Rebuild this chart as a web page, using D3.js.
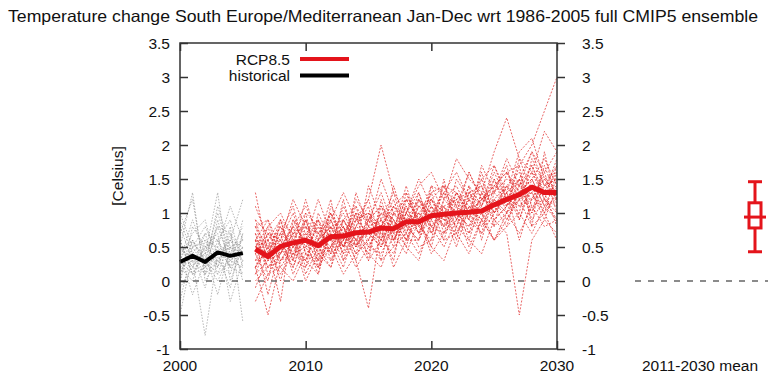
<!DOCTYPE html>
<html>
<head>
<meta charset="utf-8">
<script src="https://cdn.jsdelivr.net/npm/d3@7"></script>
<style>
  html, body { margin: 0; padding: 0; background: #fff; }
  svg { display: block; font-family: "Liberation Sans", Arial, Helvetica, sans-serif; }
</style>
</head>
<body>
<svg id="chart" width="768" height="376"></svg>
<script>
// Ensemble-mean temperature change (°C, relative to 1986-2005)
const histYears = [2000, 2001, 2002, 2003, 2004, 2005];
const histMean  = [0.28, 0.37, 0.28, 0.42, 0.37, 0.41];

const rcpYears = [2006, 2007, 2008, 2009, 2010, 2011, 2012, 2013, 2014, 2015, 2016, 2017, 2018,
                  2019, 2020, 2021, 2022, 2023, 2024, 2025, 2026, 2027, 2028, 2029, 2030];
const rcpMean  = [0.47, 0.36, 0.51, 0.56, 0.60, 0.52, 0.65, 0.66, 0.71, 0.72, 0.78, 0.77, 0.87,
                  0.87, 0.96, 0.98, 1.00, 1.01, 1.03, 1.12, 1.20, 1.27, 1.38, 1.30, 1.30];

// Individual historical runs, 2000-2005
const histMembers = [
  [0.1, 0.6, 0.2, 0.8, 0.3, 0.5],
  [0.5, 0.2, 0.7, 0.1, 0.6, 0.3],
  [0.9, 0.4, -0.1, 0.6, 0.9, 0.2],
  [0.0, 0.8, 0.5, 0.3, 0.1, 0.7],
  [0.4, -0.2, 0.3, 1.0, 0.4, 0.6],
  [-0.3, 0.5, 0.6, 0.2, 0.7, 0.0],
  [0.7, 1.2, 0.1, 0.5, 0.2, 0.9],
  [0.2, 0.3, -0.8, 0.4, 0.5, 0.4],
  [0.6, 0.1, 0.4, 1.3, 0.0, 0.5],
  [0.3, 0.7, 0.9, 0.2, 0.8, -0.6],
  [-0.1, 0.2, 0.5, 0.7, -0.3, 0.3],
  [1.0, 0.5, 0.2, 0.4, 0.6, 1.2],
  [0.3, 0.9, 0.4, -0.2, 0.5, 0.1],
  [0.2, 0.0, 0.6, 0.5, 1.1, 0.6],
  [0.8, 0.3, 0.1, 0.9, 0.2, 0.4],
  [0.4, 0.6, 0.3, 0.0, 0.4, 0.8],
  [-0.5, 0.4, 0.7, 0.6, 0.3, 0.2],
  [0.5, 1.3, 0.0, 0.3, 0.6, 0.5],
  [0.1, 0.5, 0.8, 0.4, -0.1, 0.7],
  [0.6, 0.1, 0.2, 1.1, 0.5, 0.3],
  [0.3, 0.1, 0.5, 0.6, 0.2, 0.1],
  [0.2, 0.4, 0.1, 0.3, 0.5, 0.6],
  [0.5, 0.3, 0.4, 0.8, 0.7, 0.4],
  [0.0, 0.6, 0.3, 0.1, 0.3, 0.5]
];

// Individual RCP8.5 runs, 2006-2030
const rcpMembers = [
  [0.2,0.5,0.8,0.4,0.9,0.3,0.7,1.0,0.6,0.9,1.3,0.8,1.1,0.7,1.2,1.4,0.9,1.3,1.1,1.6,1.2,1.5,1.9,1.4,1.7],
  [0.7,0.1,0.4,0.9,0.5,0.8,0.4,0.6,1.1,0.5,0.8,1.2,0.6,1.0,0.8,0.7,1.3,0.9,1.5,1.0,1.4,1.1,1.2,1.6,1.0],
  [0.5,0.6,0.0,0.7,1.0,0.2,0.9,0.5,0.8,1.2,0.6,0.4,1.0,1.3,0.7,1.1,0.8,1.4,0.6,1.3,1.7,0.9,1.5,1.1,1.5],
  [-0.1,0.4,0.6,0.2,0.7,0.9,0.3,0.8,0.4,0.6,1.0,0.7,1.4,0.8,1.1,0.6,1.2,0.7,1.3,0.9,1.1,1.8,1.3,0.9,1.4],
  [0.9,0.3,0.7,1.1,0.4,0.6,1.2,0.3,0.9,1.0,0.5,1.1,0.8,0.6,1.4,1.0,0.5,1.1,0.9,1.5,1.0,1.3,1.0,1.7,1.2],
  [0.3,0.8,0.2,0.5,0.3,0.7,0.5,1.1,0.7,0.4,1.1,0.9,0.5,1.2,0.9,1.3,1.1,0.6,1.2,1.1,0.8,1.4,1.7,1.2,0.9],
  [0.6,-0.2,0.5,0.8,0.6,0.1,0.8,0.4,1.3,0.8,0.7,0.3,1.2,0.9,0.5,1.2,1.4,1.0,0.7,1.4,1.3,0.6,1.2,1.5,1.3],
  [1.1,0.6,0.9,0.3,1.0,0.8,0.6,0.9,0.5,1.4,0.9,1.3,0.7,1.1,1.0,0.8,1.5,1.2,1.4,0.8,1.6,1.2,1.4,1.0,1.6],
  [0.0,0.2,0.4,0.7,0.1,0.5,0.3,0.6,0.2,0.5,0.4,0.8,0.5,0.3,0.9,0.6,0.7,0.4,0.9,0.6,1.0,0.7,1.1,0.8,0.9],
  [0.8,0.9,0.3,0.6,0.9,0.4,1.0,0.7,1.0,0.3,1.2,0.6,1.0,1.5,1.1,0.9,1.0,1.6,1.2,1.3,1.5,1.4,1.6,1.3,1.8],
  [0.4,0.0,0.9,0.3,0.2,1.0,0.6,0.2,0.8,1.1,0.3,1.0,0.9,0.5,0.6,1.5,0.7,1.0,1.6,0.9,1.1,1.7,0.8,1.9,1.1],
  [0.6,0.5,-0.3,0.9,0.7,0.5,0.2,0.9,0.6,0.7,0.9,0.5,1.3,0.8,1.3,0.7,0.9,1.2,0.8,1.2,0.9,1.3,1.5,1.1,1.2],
  [0.2,0.7,0.6,1.0,0.4,0.3,1.1,0.8,0.3,0.9,0.6,1.4,0.8,1.0,0.7,1.2,1.0,0.8,1.1,1.7,1.2,1.0,1.8,1.4,1.5],
  [1.3,0.4,0.8,0.5,1.2,0.6,0.8,0.5,1.0,0.6,1.0,0.9,0.6,1.1,1.2,0.9,1.3,1.1,1.0,1.2,1.4,1.6,1.1,1.2,1.0],
  [0.1,0.3,0.5,0.2,0.8,0.4,0.5,0.7,0.9,1.0,0.7,0.6,1.1,0.7,1.0,1.1,0.6,1.3,1.4,1.0,1.3,0.9,1.4,1.3,1.4],
  [0.5,0.8,1.0,0.6,0.3,0.9,0.4,1.2,0.5,0.8,1.5,1.0,0.7,1.3,0.8,1.0,1.2,0.9,1.7,1.3,1.8,1.4,1.9,1.6,1.9],
  [0.7,0.2,0.3,0.4,0.5,0.2,0.7,0.3,0.6,0.4,0.2,0.7,0.4,0.9,0.5,0.3,0.8,0.6,0.4,0.9,0.7,-0.5,0.6,0.9,0.7],
  [0.9,0.7,0.6,1.2,0.8,0.7,0.9,1.3,0.9,1.2,2.0,1.3,1.0,1.4,1.6,1.2,1.8,1.5,1.3,1.9,2.4,1.8,1.6,2.2,1.9],
  [0.3,0.4,0.7,0.5,0.6,1.2,0.7,0.5,1.0,0.9,0.8,1.1,1.3,0.9,1.3,1.4,1.1,1.6,1.2,1.4,1.6,1.7,2.0,2.5,3.0],
  [-0.3,0.1,0.2,0.0,0.4,0.2,0.5,0.1,0.4,0.6,0.3,0.5,0.7,0.4,0.8,0.5,0.9,0.7,1.0,0.6,0.9,1.2,0.8,1.0,0.6],
  [0.6,0.9,0.5,0.8,1.1,0.7,1.0,0.6,1.2,0.9,1.1,0.8,1.2,0.9,1.4,1.3,1.6,1.2,1.5,1.7,1.3,1.9,2.1,1.5,1.6],
  [0.4,0.6,0.7,0.1,0.5,0.6,0.8,0.9,0.6,0.3,0.6,0.9,0.6,0.6,1.1,0.8,1.1,0.9,0.7,1.0,1.2,1.1,1.3,1.0,1.3],
  [0.8,0.3,0.4,0.7,0.6,0.9,0.6,0.7,0.5,0.8,0.9,0.6,1.0,0.8,0.6,1.0,0.8,1.2,1.0,0.8,1.0,1.5,0.9,1.2,1.1],
  [0.2,0.5,0.6,0.4,0.3,0.1,0.8,0.6,0.9,0.7,0.5,1.0,0.8,1.2,1.0,1.3,0.9,1.4,1.1,1.5,1.1,1.3,1.7,1.3,0.8],
  [0.2,-0.5,0.3,0.6,0.0,0.4,0.2,0.7,0.3,-0.4,0.8,0.2,0.6,0.9,0.4,0.7,1.0,0.5,0.9,0.6,0.8,1.0,0.7,1.1,0.9],
  [0.5,0.4,0.9,0.7,0.8,0.6,0.4,0.9,1.1,0.8,0.6,1.0,1.2,1.1,0.9,1.4,1.3,1.0,1.2,1.4,1.6,1.3,1.5,1.8,1.4],
  [0.1,0.6,0.3,0.5,0.7,0.5,0.9,0.4,0.7,0.5,0.9,0.7,0.8,0.6,1.0,0.9,0.7,1.1,0.9,1.2,1.0,1.2,1.3,1.5,1.2],
  [0.6,0.2,0.5,0.3,0.9,0.7,0.6,0.8,0.4,1.0,0.8,1.1,0.9,1.2,0.8,1.1,1.2,1.3,1.0,1.1,1.4,1.2,1.6,1.2,1.7],
  [0.4,0.7,0.4,0.8,0.2,0.6,1.0,0.5,0.8,0.7,0.5,0.8,1.0,0.7,1.2,0.8,1.0,0.8,1.3,1.0,1.3,1.5,1.0,1.4,1.5],
  [0.8,0.5,0.1,0.4,0.6,0.3,0.5,0.8,0.5,0.9,1.1,0.6,0.9,1.0,1.2,1.0,1.3,1.0,1.2,1.3,1.1,1.4,1.2,1.3,1.6]
];

// 2011-2030 mean spread across the RCP8.5 ensemble
const boxCategory = "2011-2030 mean";
const boxStats = { low: 0.43, q1: 0.78, median: 0.94, q3: 1.15, high: 1.46 };

const xTicks = [2000, 2010, 2020, 2030];
const yTicks = [-1, -0.5, 0, 0.5, 1, 1.5, 2, 2.5, 3, 3.5];

const titleText = "Temperature change South Europe/Mediterranean Jan-Dec wrt 1986-2005 full CMIP5 ensemble";
const yLabel = "[Celsius]";

const RED = "#e4141b";

const svg = d3.select("#chart");
const plot = { left: 180, right: 557, top: 43, bottom: 349 };

const x = d3.scaleLinear().domain([2000, 2030]).range([plot.left, plot.right]);
const y = d3.scaleLinear().domain([-1, 3.5]).range([plot.bottom, plot.top]);
const xInset = d3.scalePoint().domain([boxCategory]).range([635, 875]).padding(0.5);

const fmt = d => String(d);

// Title
svg.append("text")
  .attr("x", 8).attr("y", 22)
  .attr("text-anchor", "start")
  .attr("font-size", 16.5)
  .attr("textLength", 750)
  .attr("lengthAdjust", "spacingAndGlyphs")
  .attr("fill", "#111")
  .text(titleText);

// Clip region for the ensemble traces
svg.append("clipPath").attr("id", "plotClip")
  .append("rect")
  .attr("x", plot.left).attr("y", plot.top)
  .attr("width", plot.right - plot.left).attr("height", plot.bottom - plot.top);

const line = d3.line().x(d => x(d[0])).y(d => y(d[1]));
const traces = svg.append("g").attr("clip-path", "url(#plotClip)");

// Historical ensemble members
traces.selectAll("path.hist")
  .data(histMembers)
  .join("path")
  .attr("class", "hist")
  .attr("d", vals => line(vals.map((v, i) => [histYears[i], v])))
  .attr("fill", "none")
  .attr("stroke", "#8c8c8c")
  .attr("stroke-width", 0.8)
  .attr("stroke-dasharray", "1.5,1.5")
  .attr("opacity", 0.8);

// RCP8.5 ensemble members
traces.selectAll("path.rcp")
  .data(rcpMembers)
  .join("path")
  .attr("class", "rcp")
  .attr("d", vals => line(vals.map((v, i) => [rcpYears[i], v])))
  .attr("fill", "none")
  .attr("stroke", "#e02a2a")
  .attr("stroke-width", 0.85)
  .attr("stroke-dasharray", "2,1.5")
  .attr("opacity", 0.85);

// Zero reference lines
const zeroStyle = sel => sel
  .attr("stroke", "#666")
  .attr("stroke-width", 1.5)
  .attr("stroke-dasharray", "6,7");

svg.append("line")
  .attr("x1", plot.left).attr("x2", plot.right)
  .attr("y1", y(0)).attr("y2", y(0))
  .call(zeroStyle);

svg.append("line")
  .attr("x1", xInset.range()[0]).attr("x2", 768)
  .attr("y1", y(0)).attr("y2", y(0))
  .call(zeroStyle);

// Ensemble means
svg.append("path")
  .attr("d", line(histMean.map((v, i) => [histYears[i], v])))
  .attr("fill", "none")
  .attr("stroke", "#000")
  .attr("stroke-width", 4)
  .attr("stroke-linejoin", "round");

svg.append("path")
  .attr("d", line(rcpMean.map((v, i) => [rcpYears[i], v])))
  .attr("fill", "none")
  .attr("stroke", RED)
  .attr("stroke-width", 5)
  .attr("stroke-linejoin", "round");

// Axes and frame
const axisColor = "#333";
const axisFont = 15.5;

const leftAxis = svg.append("g")
  .attr("transform", `translate(${plot.left},0)`)
  .call(d3.axisRight(y).tickValues(yTicks).tickSize(8).tickFormat(""));
const rightAxis = svg.append("g")
  .attr("transform", `translate(${plot.right},0)`)
  .call(d3.axisRight(y).tickValues(yTicks).tickSize(8).tickFormat(""));
const bottomAxis = svg.append("g")
  .attr("transform", `translate(0,${plot.bottom})`)
  .call(d3.axisTop(x).tickValues(xTicks).tickSize(8).tickFormat(""));
const topAxis = svg.append("g")
  .attr("transform", `translate(0,${plot.top})`)
  .call(d3.axisBottom(x).tickValues(xTicks).tickSize(8).tickFormat(""));

[leftAxis, rightAxis, bottomAxis, topAxis].forEach(g => {
  g.select(".domain").remove();
  g.selectAll(".tick line").attr("stroke", axisColor).attr("stroke-width", 1.5);
});

svg.append("rect")
  .attr("x", plot.left).attr("y", plot.top)
  .attr("width", plot.right - plot.left).attr("height", plot.bottom - plot.top)
  .attr("fill", "none")
  .attr("stroke", axisColor)
  .attr("stroke-width", 1.5);

// Tick labels
svg.append("g").selectAll("text")
  .data(yTicks).join("text")
  .attr("x", plot.left - 10).attr("y", d => y(d))
  .attr("dy", "0.36em")
  .attr("text-anchor", "end")
  .attr("font-size", axisFont)
  .attr("fill", "#111")
  .text(fmt);

svg.append("g").selectAll("text")
  .data(yTicks).join("text")
  .attr("x", plot.right + 25).attr("y", d => y(d))
  .attr("dy", "0.36em")
  .attr("text-anchor", "start")
  .attr("font-size", axisFont)
  .attr("fill", "#111")
  .text(fmt);

svg.append("g").selectAll("text")
  .data(xTicks).join("text")
  .attr("x", d => x(d)).attr("y", plot.bottom + 22)
  .attr("text-anchor", "middle")
  .attr("font-size", axisFont)
  .attr("fill", "#111")
  .text(fmt);

// Y axis title
svg.append("text")
  .attr("transform", `translate(123,${(plot.top + plot.bottom) / 2 - 20}) rotate(-90)`)
  .attr("text-anchor", "middle")
  .attr("font-size", axisFont)
  .attr("fill", "#111")
  .text(yLabel);

// Legend
const legend = [
  { label: "RCP8.5", color: RED, width: 4 },
  { label: "historical", color: "#000", width: 4 }
];
const lg = svg.append("g");
legend.forEach((d, i) => {
  const ly = 59 + i * 16.5;
  lg.append("text")
    .attr("x", 290).attr("y", ly).attr("dy", "0.36em")
    .attr("text-anchor", "end")
    .attr("font-size", axisFont)
    .attr("fill", "#111")
    .text(d.label);
  lg.append("line")
    .attr("x1", 300).attr("x2", 349)
    .attr("y1", ly).attr("y2", ly)
    .attr("stroke", d.color)
    .attr("stroke-width", d.width);
});

// Box-and-whisker of the 2011-2030 mean
const cx = xInset(boxCategory);
const bw = 12, capW = 14, medW = 22;
const bx = svg.append("g").attr("stroke", RED).attr("stroke-width", 3).attr("fill", "none");
bx.append("line").attr("x1", cx).attr("x2", cx).attr("y1", y(boxStats.high)).attr("y2", y(boxStats.q3));
bx.append("line").attr("x1", cx).attr("x2", cx).attr("y1", y(boxStats.q1)).attr("y2", y(boxStats.low));
bx.append("line").attr("x1", cx - capW / 2).attr("x2", cx + capW / 2).attr("y1", y(boxStats.high)).attr("y2", y(boxStats.high));
bx.append("line").attr("x1", cx - capW / 2).attr("x2", cx + capW / 2).attr("y1", y(boxStats.low)).attr("y2", y(boxStats.low));
bx.append("rect")
  .attr("x", cx - bw / 2).attr("y", y(boxStats.q3))
  .attr("width", bw).attr("height", y(boxStats.q1) - y(boxStats.q3));
bx.append("line").attr("x1", cx - medW / 2).attr("x2", cx + medW / 2).attr("y1", y(boxStats.median)).attr("y2", y(boxStats.median));

svg.append("text")
  .attr("x", xInset.range()[0] + 7).attr("y", plot.bottom + 22)
  .attr("text-anchor", "start")
  .attr("font-size", axisFont)
  .attr("fill", "#111")
  .text(boxCategory);
</script>
</body>
</html>
